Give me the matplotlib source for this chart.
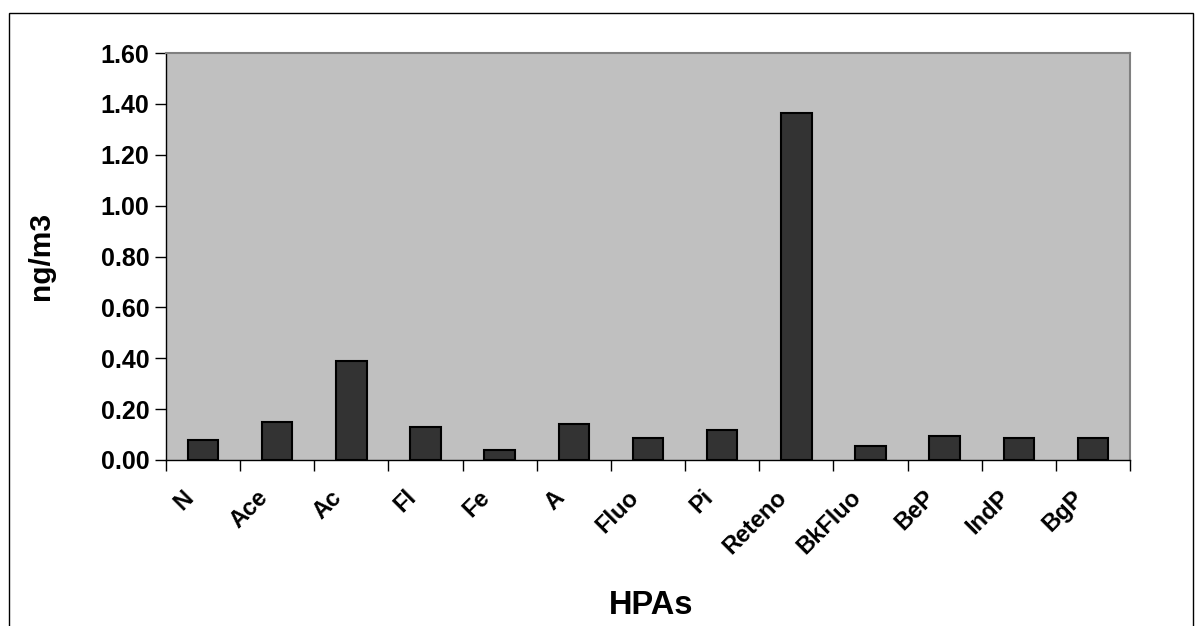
import matplotlib.pyplot as plt
from matplotlib.patches import Rectangle
from matplotlib.transforms import ScaledTranslation
import numpy as np

plt.rcParams['font.family'] = ['Liberation Sans', 'DejaVu Sans']
plt.rcParams['font.weight'] = 'bold'

compounds = ['N', 'Ace', 'Ac', 'Fl', 'Fe', 'A', 'Fluo', 'Pi', 'Reteno',
             'BkFluo', 'BeP', 'IndP', 'BgP']
conc = [0.08, 0.15, 0.39, 0.13, 0.04, 0.14, 0.085, 0.117, 1.365,
        0.056, 0.093, 0.086, 0.086]
yticks = [0.0, 0.2, 0.4, 0.6, 0.8, 1.0, 1.2, 1.4, 1.6]

fig = plt.figure(figsize=(12.02, 6.26), dpi=100)
ax = fig.add_axes([0.1381, 0.2652, 0.8020, 0.6501])
ax.set_facecolor('#c0c0c0')

x = np.arange(len(compounds))
ax.bar(x, conc, width=0.41, color='#333333', edgecolor='black', linewidth=1.5,
       zorder=3)

ax.set_xlim(-0.5, len(compounds) - 0.5)
ax.set_ylim(0, 1.6)
ax.set_yticks(yticks)
ax.set_yticklabels(['%.2f' % v for v in yticks], fontsize=18, fontweight='bold')

# ticks sit between categories, labels at the category centres
ax.set_xticks(np.arange(len(compounds) + 1) - 0.5)
ax.set_xticklabels([])
ax.set_xticks(x, minor=True)
ax.set_xticklabels(compounds, minor=True, rotation=45, ha='right', va='center',
                   rotation_mode='anchor', fontsize=17, fontweight='bold')
ax.tick_params(axis='x', which='minor', length=0, pad=18)
ax.tick_params(axis='x', which='major', length=8, width=1, direction='out')
ax.tick_params(axis='y', length=8, width=1, direction='out', pad=4)

shift = ScaledTranslation(-13 / 100, -9 / 100, fig.dpi_scale_trans)
for lbl in ax.get_xticklabels(minor=True):
    lbl.set_transform(lbl.get_transform() + shift)

for side in ['top', 'right']:
    ax.spines[side].set_color('#808080')
    ax.spines[side].set_linewidth(1.5)
for side in ['left', 'bottom']:
    ax.spines[side].set_color('black')
    ax.spines[side].set_linewidth(1)

fig.text(0.034, 0.591, 'ng/m3', rotation=90, ha='center', va='center',
         fontsize=21.5, fontweight='bold')
fig.text(0.5416, 0.0335, 'HPAs', ha='center', va='center',
         fontsize=23.5, fontweight='bold')

# chart area border
fig.patches.append(Rectangle((9 / 1202, -0.05), 1184 / 1202, 1.05 - 13 / 626,
                             transform=fig.transFigure, fill=False,
                             edgecolor='black', linewidth=1))

fig.savefig('out.png', dpi=100)
